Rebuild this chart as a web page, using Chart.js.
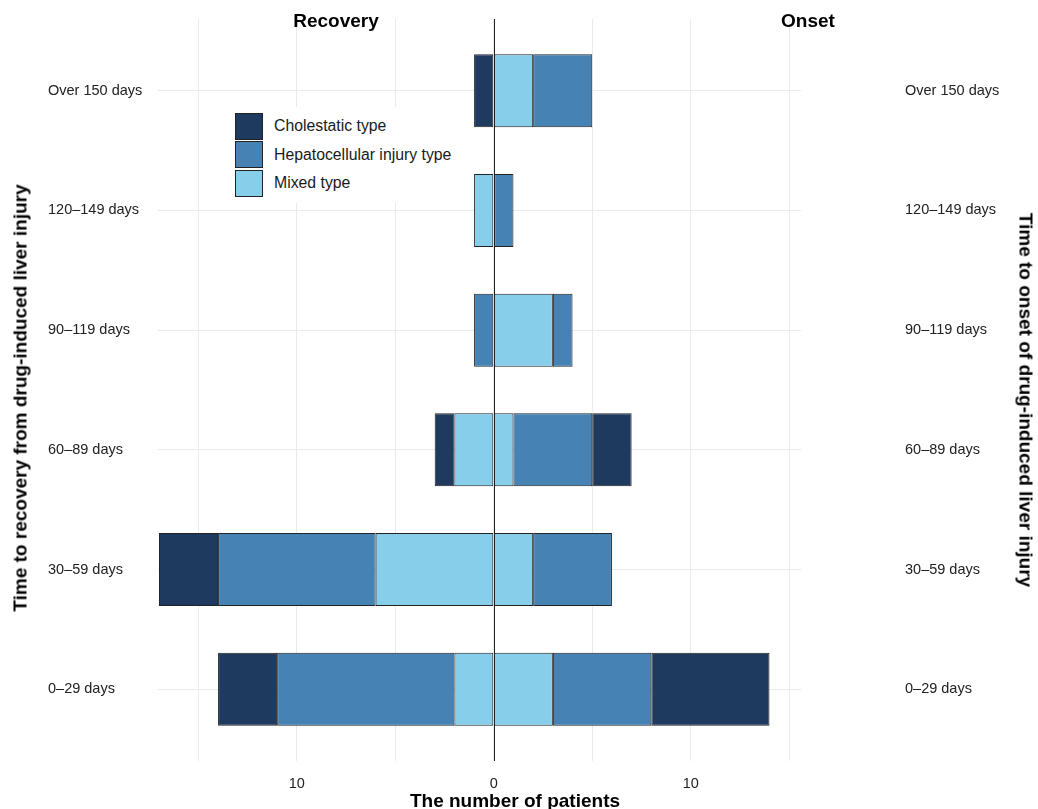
<!DOCTYPE html>
<html>
<head>
<meta charset="utf-8">
<script src="https://cdn.jsdelivr.net/npm/chart.js@4.4.1/dist/chart.umd.min.js"></script>
<style>
  body { margin: 0; overflow: hidden; background: #fff; font-family: "Liberation Sans", Arial, sans-serif; }
  #wrap { position: relative; width: 1038px; height: 809px; overflow: hidden; }
  .ttl { position: absolute; font-weight: bold; font-size: 19px; line-height: 1; white-space: nowrap; color: #000; }
  #legend { position: absolute; left: 229px; top: 107px; width: 236px; padding: 5px 0 5px 6px; background: #fff; box-sizing: border-box; }
  .item { display: flex; align-items: center; height: 28.5px; font-size: 15.8px; color: #1a1a1a; }
  .key { width: 26px; height: 25px; border: 1px solid #222; margin-right: 11px; }
</style>
</head>
<body>
<div id="wrap">
  <canvas id="myChart"></canvas>
  <div class="ttl" style="left:336px; top:11px; transform:translateX(-50%)">Recovery</div>
  <div class="ttl" style="left:808px; top:11px; transform:translateX(-50%)">Onset</div>
  <div class="ttl" style="left:515px; top:791px; transform:translateX(-50%)">The number of patients</div>
  <div class="ttl" style="left:20px; top:398px; transform:translate(-50%,-50%) rotate(-90deg)">Time to recovery from drug-induced liver injury</div>
  <div class="ttl" style="left:1026px; top:400px; transform:translate(-50%,-50%) rotate(90deg)">Time to onset of drug-induced liver injury</div>
  <div id="legend"></div>
</div>
<script>
// categories, top to bottom
const categories = ['Over 150 days', '120–149 days', '90–119 days', '60–89 days', '30–59 days', '0–29 days'];
const types = ['Cholestatic type', 'Hepatocellular injury type', 'Mixed type'];
const typeColors = ['#1f3a5f', '#4682b4', '#87ceeb'];

// patients per type, recovery side (drawn to the left)
const recoveryCholestatic = [1, 0, 0, 1, 3, 3];
const recoveryHepatocellular = [0, 0, 1, 0, 8, 9];
const recoveryMixed = [0, 1, 0, 2, 6, 2];

// patients per type, onset side (drawn to the right)
const onsetCholestatic = [0, 0, 0, 2, 0, 6];
const onsetHepatocellular = [3, 1, 1, 4, 4, 5];
const onsetMixed = [2, 0, 3, 1, 2, 3];

const xTicks = [-15, -10, -5, 0, 5, 10, 15];
const xLabelled = [-10, 0, 10];

function points(values, sign) {
    return values.map((v, i) => ({ x: sign * v, y: i })).filter(p => p.x !== 0);
}

function ds(label, values, sign, color) {
    return {
        label: label,
        data: points(values, sign),
        backgroundColor: color,
        borderColor: '#222',
        borderWidth: 1,
        borderSkipped: false,
        stack: 'all',
        barPercentage: 0.61,
        categoryPercentage: 1
    };
}

// stacked from the centre outwards: mixed, hepatocellular, cholestatic
const datasets = [
    ds(types[2], recoveryMixed, -1, typeColors[2]),
    ds(types[2], onsetMixed, 1, typeColors[2]),
    ds(types[1], recoveryHepatocellular, -1, typeColors[1]),
    ds(types[1], onsetHepatocellular, 1, typeColors[1]),
    ds(types[0], recoveryCholestatic, -1, typeColors[0]),
    ds(types[0], onsetCholestatic, 1, typeColors[0])
];

const catTicks = s => { s.ticks = categories.map((_, i) => ({ value: i })); };
const labelFont = { family: '"Liberation Sans", Arial, sans-serif', size: 14.5 };

const zeroLine = {
    id: 'zeroLine',
    afterDatasetsDraw(chart) {
        const { ctx, chartArea, scales } = chart;
        const x = Math.round(scales.x.getPixelForValue(0)) + 0.5;
        ctx.save();
        ctx.strokeStyle = '#222';
        ctx.lineWidth = 1;
        ctx.beginPath();
        ctx.moveTo(x, chartArea.top);
        ctx.lineTo(x, chartArea.bottom);
        ctx.stroke();
        ctx.restore();
    }
};

new Chart(document.getElementById('myChart'), {
    type: 'bar',
    data: { datasets: datasets },
    plugins: [zeroLine],
    options: {
        indexAxis: 'y',
        responsive: true,
        maintainAspectRatio: false,
        animation: false,
        layout: { padding: { left: 48, top: 19, right: 0, bottom: 0 } },
        plugins: { legend: { display: false }, tooltip: { enabled: false } },
        scales: {
            x: {
                type: 'linear',
                position: 'bottom',
                stacked: true,
                offset: false,
                min: -17.05,
                max: 15.6,
                afterBuildTicks: s => { s.ticks = xTicks.map(v => ({ value: v })); },
                afterFit: s => { s.height = 48; },
                grid: { color: '#ebebeb', lineWidth: 1, offset: false, drawTicks: true, tickLength: 14, tickColor: 'rgba(0,0,0,0)' },
                border: { display: false },
                ticks: {
                    autoSkip: false,
                    maxRotation: 0,
                    padding: 0,
                    color: '#222',
                    font: labelFont,
                    callback: v => xLabelled.includes(v) ? String(Math.abs(v)) : ''
                }
            },
            y: {
                type: 'linear',
                position: 'left',
                stacked: true,
                reverse: true,
                offset: false,
                min: -0.6,
                max: 5.6,
                afterBuildTicks: catTicks,
                afterFit: s => { s.width = 110; },
                grid: { color: '#ebebeb', lineWidth: 1, offset: false, drawTicks: false },
                border: { display: false },
                ticks: {
                    crossAlign: 'far',
                    padding: 0,
                    color: '#222',
                    font: labelFont,
                    callback: v => categories[v] ?? ''
                }
            },
            y2: {
                type: 'linear',
                position: 'right',
                display: true,
                reverse: true,
                offset: false,
                min: -0.6,
                max: 5.6,
                afterBuildTicks: catTicks,
                afterFit: s => { s.width = 237; },
                grid: { display: false, offset: false, drawTicks: true, tickLength: 104, tickColor: 'rgba(0,0,0,0)' },
                border: { display: false },
                ticks: {
                    crossAlign: 'near',
                    padding: 0,
                    color: '#222',
                    font: labelFont,
                    callback: v => categories[v] ?? ''
                }
            }
        }
    }
});

// legend inside the plot, same order as the reference
const legend = document.getElementById('legend');
types.forEach((t, i) => {
    const row = document.createElement('div');
    row.className = 'item';
    const key = document.createElement('div');
    key.className = 'key';
    key.style.background = typeColors[i];
    const txt = document.createElement('span');
    txt.textContent = t;
    row.append(key, txt);
    legend.append(row);
});
</script>
</body>
</html>
